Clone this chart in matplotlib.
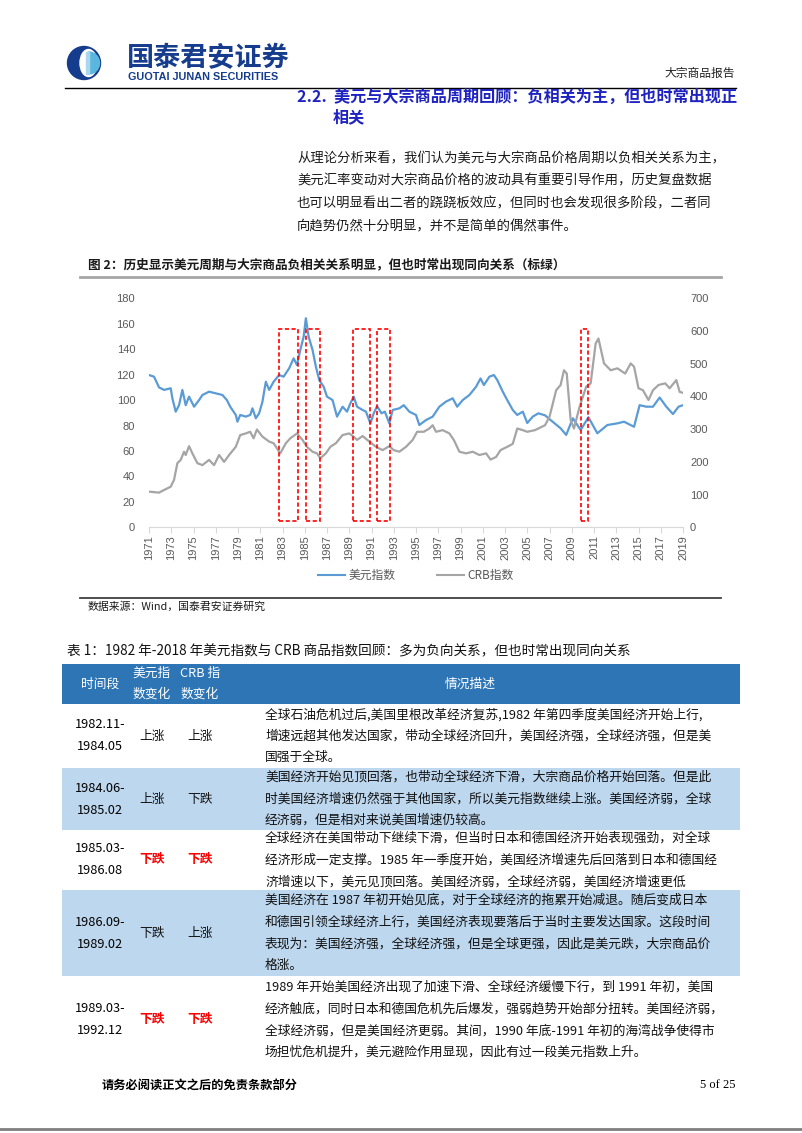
import numpy as np
import matplotlib
matplotlib.use('Agg')
import matplotlib.pyplot as plt
from matplotlib.patches import Rectangle, Circle, Ellipse, Wedge
from matplotlib.lines import Line2D

plt.rcParams['font.family'] = ['Noto Sans CJK SC', 'DejaVu Sans']

# ---- chart data ----
usd_years = [1971.0, 1971.45, 1971.9, 1972.35, 1972.95, 1973.1, 1973.4, 1973.7, 1974.0, 1974.3,
             1974.6, 1975.05, 1975.5, 1975.8, 1976.4, 1977.0, 1977.6, 1978.0, 1978.3, 1978.8,
             1978.95, 1979.2, 1979.7, 1980.1, 1980.3, 1980.6, 1980.9, 1981.2, 1981.5, 1981.8,
             1982.2, 1982.7, 1983.1, 1983.6, 1984.0, 1984.3, 1984.6, 1984.9, 1985.1, 1985.35,
             1985.7, 1986.0, 1986.3, 1986.7, 1987.0, 1987.5, 1987.9, 1988.4, 1988.8, 1989.1,
             1989.4, 1989.7, 1990.2, 1990.5, 1990.9, 1991.2, 1991.5, 1991.9, 1992.2, 1992.6,
             1992.9, 1993.5, 1993.9, 1994.4, 1995.0, 1995.3, 1995.9, 1996.5, 1997.1, 1997.7,
             1998.3, 1998.7, 1999.2, 1999.8, 2000.4, 2000.8, 2001.1, 2001.6, 2002.0, 2002.3,
             2002.8, 2003.2, 2003.7, 2004.1, 2004.6, 2005.0, 2005.5, 2006.0, 2006.6, 2007.1,
             2008.0, 2008.5, 2009.1, 2009.8, 2010.5, 2011.3, 2012.2, 2013.1, 2013.7, 2014.6,
             2015.1, 2015.7, 2016.3, 2016.9, 2017.5, 2018.1, 2018.6, 2019.0]
usd_vals = [119.7, 118.4, 110, 108, 109.3, 101.4, 90.9, 96, 108, 96,
            102.7, 94.8, 100, 104, 106.6, 105.3, 104, 100, 94.8, 88.3,
            83, 88.3, 87, 88.3, 93.5, 85.7, 89.6, 98.8, 114.4, 108,
            114.4, 119.7, 118.4, 125, 132.8, 127.6, 139.4, 149.8, 164.3, 149.8,
            139.4, 126.3, 115.8, 110.5, 102.7, 100, 87, 94.8, 90.9, 97.4,
            102.7, 94.8, 92.2, 90.9, 81.7, 89.6, 95.3, 89.6, 90.9, 81.7,
            92.2, 93.5, 96, 90.9, 88.3, 80.4, 84.3, 87, 94.8, 98.8,
            101.4, 94.8, 100, 104, 110.5, 117, 111.8, 118.4, 119.7, 115.8,
            106.6, 100, 92.2, 88.3, 90.9, 82, 87, 89.6, 88, 84.3,
            77.8, 72.6, 85.7, 76.5, 86.5, 73.9, 80.4, 81.7, 83, 79,
            96, 94.8, 94.8, 102, 94.8, 89, 94.8, 96]

crb_years = [1971.0, 1971.9, 1972.35, 1972.95, 1973.25, 1973.55, 1973.85, 1974.15, 1974.3, 1974.6,
             1974.9, 1975.35, 1975.8, 1976.4, 1976.85, 1977.3, 1977.75, 1978.2, 1978.8, 1979.2,
             1979.7, 1980.1, 1980.4, 1980.7, 1981.2, 1981.8, 1982.2, 1982.8, 1983.3, 1983.7,
             1984.3, 1984.8, 1985.2, 1985.7, 1986.1, 1986.4, 1986.9, 1987.3, 1987.8, 1988.4,
             1989.0, 1989.4, 1989.7, 1990.2, 1990.8, 1991.4, 1992.0, 1992.6, 1993.0, 1993.5,
             1994.1, 1994.7, 1995.1, 1995.7, 1996.2, 1996.5, 1996.8, 1997.4, 1998.0, 1998.4,
             1998.9, 1999.5, 2000.1, 2000.7, 2001.3, 2001.7, 2002.2, 2002.6, 2003.2, 2003.7,
             2004.1, 2004.6, 2005.0, 2005.7, 2006.6, 2007.0, 2007.6, 2008.0, 2008.3, 2008.55,
             2008.9, 2009.2, 2009.7, 2010.3, 2010.7, 2011.15, 2011.4, 2011.9, 2012.5, 2013.1,
             2013.8, 2014.3, 2014.6, 2015.0, 2015.4, 2015.9, 2016.3, 2016.8, 2017.4, 2017.8,
             2018.4, 2018.7, 2019.0]
crb_vals = [109, 106, 114, 124, 145, 196, 206, 231, 221, 248,
            226, 196, 190, 206, 190, 221, 200, 221, 246, 282,
            287, 292, 272, 299, 277, 262, 257, 226, 257, 272,
            287, 267, 246, 231, 226, 211, 226, 246, 257, 282,
            287, 277, 267, 279, 262, 246, 236, 248, 236, 231,
            246, 267, 292, 292, 302, 312, 292, 297, 287, 267,
            231, 226, 231, 221, 226, 207, 215, 236, 246, 255,
            302, 297, 292, 297, 312, 338, 419, 435, 480, 470,
            328, 302, 368, 430, 440, 562, 577, 501, 480, 486,
            470, 501, 491, 425, 419, 389, 419, 435, 440, 425,
            450, 414, 411]

# highlighted periods (dashed red boxes), in years
box_periods = [(1982.7, 1984.4), (1985.15, 1986.4), (1989.35, 1990.9), (1991.5, 1992.65), (2009.87, 2010.47)]
box_low, box_high = 5, 156

# ---- table data ----
tbl_periods = [('1982.11-', '1984.05'), ('1984.06-', '1985.02'), ('1985.03-', '1986.08'),
               ('1986.09-', '1989.02'), ('1989.03-', '1992.12')]
tbl_usd = ['上涨', '上涨', '下跌', '下跌', '下跌']
tbl_crb = ['上涨', '下跌', '下跌', '上涨', '下跌']
tbl_red = [False, False, True, False, True]
tbl_desc = [
    ['全球石油危机过后,美国里根改革经济复苏,1982 年第四季度美国经济开始上行,',
     '增速远超其他发达国家，带动全球经济回升，美国经济强，全球经济强，但是美',
     '国强于全球。'],
    ['美国经济开始见顶回落，也带动全球经济下滑，大宗商品价格开始回落。但是此',
     '时美国经济增速仍然强于其他国家，所以美元指数继续上涨。美国经济弱，全球',
     '经济弱，但是相对来说美国增速仍较高。'],
    ['全球经济在美国带动下继续下滑，但当时日本和德国经济开始表现强劲，对全球',
     '经济形成一定支撑。1985 年一季度开始，美国经济增速先后回落到日本和德国经',
     '济增速以下，美元见顶回落。美国经济弱，全球经济弱，美国经济增速更低'],
    ['美国经济在 1987 年初开始见底，对于全球经济的拖累开始减退。随后变成日本',
     '和德国引领全球经济上行，美国经济表现要落后于当时主要发达国家。这段时间',
     '表现为：美国经济强，全球经济强，但是全球更强，因此是美元跌，大宗商品价',
     '格涨。'],
    ['1989 年开始美国经济出现了加速下滑、全球经济缓慢下行，到 1991 年初，美国',
     '经济触底，同时日本和德国危机先后爆发，强弱趋势开始部分扭转。美国经济弱，',
     '全球经济弱，但是美国经济更弱。其间，1990 年底-1991 年初的海湾战争使得市',
     '场担忧危机提升，美元避险作用显现，因此有过一段美元指数上升。'],
]

body_lines = ['从理论分析来看，我们认为美元与大宗商品价格周期以负相关关系为主，',
              '美元汇率变动对大宗商品价格的波动具有重要引导作用，历史复盘数据',
              '也可以明显看出二者的跷跷板效应，但同时也会发现很多阶段，二者同',
              '向趋势仍然十分明显，并不是简单的偶然事件。']

W, H = 802, 1133
fig = plt.figure(figsize=(W / 100, H / 100), dpi=100)
page = fig.add_axes([0, 0, 1, 1])
page.set_xlim(0, W)
page.set_ylim(H, 0)
page.axis('off')

navy = '#163C8E'
# logo
page.add_patch(Circle((84, 63), 16.5, color=navy))
page.add_patch(Ellipse((88.5, 63), 17, 27, color='white'))
page.add_patch(Wedge((88.5, 63), 11, -90, 90, color='#5BB6DE'))
page.add_patch(Rectangle((85.5, 52), 3, 22, color='#A9D8EE'))
page.text(127, 58, '国泰君安证券', fontsize=19.5, weight='bold', color=navy, va='center')
page.text(128, 76.5, 'GUOTAI JUNAN SECURITIES', fontsize=7.8, weight='bold', color=navy,
          va='center', family=['Liberation Sans', 'DejaVu Sans'])
page.text(735, 73, '大宗商品报告', fontsize=8.5, ha='right', va='center', color='#222222')
page.plot([65, 736], [87.5, 87.5], color='black', lw=1)

# heading + paragraph
blue_h = '#1E22C0'
page.text(297, 97, '2.2.  美元与大宗商品周期回顾：负相关为主，但也时常出现正', fontsize=11.6,
          weight='bold', color=blue_h, va='center')
page.text(333, 117.5, '相关', fontsize=11.6, weight='bold', color=blue_h, va='center')
for i, line in enumerate(body_lines):
    page.text(297, 158 + i * 22.7, line, fontsize=9.6, va='center', color='#1A1A1A')

# figure title
page.text(88, 265, '图 2：历史显示美元周期与大宗商品负相关关系明显，但也时常出现同向关系（标绿）',
          fontsize=9.1, weight='bold', va='center', color='#1A1A1A')
page.plot([80, 721], [277, 277], color='#A6A6A6', lw=2)
page.plot([80, 721], [597.5, 597.5], color='#404040', lw=1.3)
page.text(88, 607, '数据来源：Wind，国泰君安证券研究', fontsize=7.8, va='center', color='#1A1A1A')

# ---- chart ----
ax = fig.add_axes([149 / W, 1 - 527.3 / H, (683 - 149) / W, 229 / H])
ax.patch.set_alpha(0)
ax.plot(usd_years, usd_vals, color='#5B9BD5', lw=1.6)
ax.set_xlim(1971, 2019)
ax.set_ylim(0, 180)
ax.set_yticks(range(0, 181, 20))
ax.set_xticks(range(1971, 2020, 2))
ax.set_xticklabels([str(y) for y in range(1971, 2020, 2)], rotation=90)
ax2 = ax.twinx()
ax2.plot(crb_years, crb_vals, color='#A5A5A5', lw=1.6)
ax2.set_ylim(0, 700)
ax2.set_yticks(range(0, 701, 100))
for a in (ax, ax2):
    for s in ('top', 'left', 'right'):
        a.spines[s].set_visible(False)
    a.spines['bottom'].set_color('#D9D9D9')
ax.tick_params(axis='y', length=0, labelsize=8, labelcolor='#595959', pad=10)
ax2.tick_params(axis='y', length=0, labelsize=8, labelcolor='#595959', pad=5)
ax.tick_params(axis='x', length=4, color='#D9D9D9', labelsize=8, labelcolor='#595959', pad=1.5)
for a in (ax, ax2):
    for lab in a.get_yticklabels() + a.get_xticklabels():
        lab.set_family(['Liberation Sans', 'DejaVu Sans'])

for x0, x1 in box_periods:
    ax2.add_patch(Rectangle((x0, box_low), x1 - x0, box_high - box_low, transform=ax.transData,
                            fill=False, edgecolor='#FF0000', lw=1.2, ls=(0, (2.5, 1.5)), zorder=5))

handles = [Line2D([], [], color='#5B9BD5', lw=1.5), Line2D([], [], color='#A5A5A5', lw=1.5)]
ax.legend(handles, ['美元指数', 'CRB指数'], loc='center', bbox_to_anchor=(0.5, -0.21), ncol=2,
          frameon=False, fontsize=8.5, handlelength=2.3, columnspacing=3.5, labelcolor='#595959',
          handletextpad=0.3)

# ---- table ----
page.text(67, 651, '表 1：1982 年-2018 年美元指数与 CRB 商品指数回顾：多为负向关系，但也时常出现同向关系',
          fontsize=9.8, va='center', color='#111111')
tx0, tx1 = 62, 740
col_c = [100, 152, 200]
desc_x = 265
page.add_patch(Rectangle((tx0, 664), tx1 - tx0, 40, color='#2E75B6', lw=0))
page.text(col_c[0], 684, '时间段', fontsize=9.2, color='white', ha='center', va='center')
page.text(col_c[1], 673.5, '美元指', fontsize=9.2, color='white', ha='center', va='center')
page.text(col_c[1], 694.5, '数变化', fontsize=9.2, color='white', ha='center', va='center')
page.text(col_c[2], 673.5, 'CRB 指', fontsize=9.2, color='white', ha='center', va='center')
page.text(col_c[2], 694.5, '数变化', fontsize=9.2, color='white', ha='center', va='center')
page.text(470, 684, '情况描述', fontsize=9.2, color='white', ha='center', va='center')

row_edges = [704, 768, 830, 890, 976, 1064]
for r in range(5):
    top, bot = row_edges[r], row_edges[r + 1]
    if r % 2 == 1:
        page.add_patch(Rectangle((tx0, top), tx1 - tx0, bot - top, color='#BDD7EE', lw=0))
    mid = (top + bot) / 2
    page.text(col_c[0], mid - 11, tbl_periods[r][0], fontsize=9.2, ha='center', va='center')
    page.text(col_c[0], mid + 11, tbl_periods[r][1], fontsize=9.2, ha='center', va='center')
    c = '#FF0000' if tbl_red[r] else '#111111'
    w = 'bold' if tbl_red[r] else 'normal'
    page.text(col_c[1], mid, tbl_usd[r], fontsize=9.2, ha='center', va='center', color=c, weight=w)
    page.text(col_c[2], mid, tbl_crb[r], fontsize=9.2, ha='center', va='center', color=c, weight=w)
    n = len(tbl_desc[r])
    for i, line in enumerate(tbl_desc[r]):
        page.text(desc_x, mid + (i - (n - 1) / 2) * 21.6, line, fontsize=9.2, va='center',
                  color='#111111')

# footer
page.text(102, 1085, '请务必阅读正文之后的免责条款部分', fontsize=8.8, weight='bold', va='center')
page.text(700, 1085, '5 of 25', fontsize=9, va='center', family=['Liberation Serif', 'DejaVu Serif'])
page.plot([0, W], [1129, 1129], color='#7F7F7F', lw=2)

fig.savefig('out.png', dpi=100)
